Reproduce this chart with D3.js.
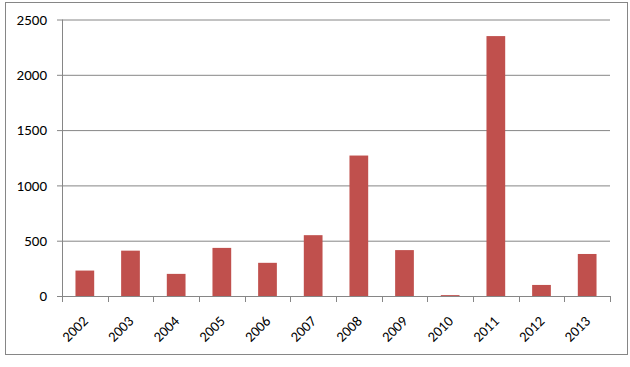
<!doctype html>
<html>
<head>
<meta charset="utf-8"/>
<title>Bars</title>
<script src="https://d3js.org/d3.v7.min.js"></script>
<style>
  body { margin: 0; background: white; }
  text { font-family: Calibri, Carlito, 'Liberation Sans', Arial, sans-serif; fill: black; }
</style>
</head>
<body>
<svg id="svg1"></svg>
<script>
// values
const years = ['2002', '2003', '2004', '2005', '2006', '2007', '2008', '2009', '2010', '2011', '2012', '2013']
const counts = [230, 410, 200, 435, 300, 550, 1270, 415, 8, 2350, 100, 380]
const yTicks = [0, 500, 1000, 1500, 2000, 2500]

const width = 630
const height = 367
const grey = '#868686'

const svg = d3.select('#svg1')
    .attr('width', width)
    .attr('height', height)

// outer chart frame
svg.append('rect')
    .attr('x', 5.5).attr('y', 2.5)
    .attr('width', 622).attr('height', 352)
    .style('fill', 'white')
    .style('stroke', grey)

const plot = { left: 62, right: 610, top: 19.5, bottom: 296 }

const x = d3.scaleBand()
    .domain(years)
    .range([plot.left, plot.right])
    .paddingInner(0.59)
    .paddingOuter(0.295)

const xTicks = d3.scaleBand().domain(years).range([plot.left, plot.right])

const y = d3.scaleLinear()
    .domain([0, 2500])
    .range([plot.bottom, plot.top])

// gridlines + y axis
const yAxis = svg.append('g')
    .attr('transform', `translate(${plot.left},0)`)
    .call(d3.axisLeft(y).tickValues(yTicks).tickFormat(d3.format('d')).tickSizeOuter(0))
yAxis.select('.domain').remove()
yAxis.selectAll('line').style('stroke', grey).attr('x2', plot.right - plot.left).attr('x1', -5)
yAxis.selectAll('text').style('font-size', '15px').attr('x', -15)

svg.append('line')
    .attr('x1', plot.left + 0.5).attr('x2', plot.left + 0.5)
    .attr('y1', plot.top).attr('y2', plot.bottom)
    .style('stroke', grey)

// bars
svg.selectAll('rect.bar')
    .data(counts)
    .join('rect')
    .attr('class', 'bar')
    .attr('x', (d, i) => x(years[i]))
    .attr('width', x.bandwidth())
    .attr('y', d => y(d))
    .attr('height', d => y(0) - y(d))
    .style('fill', '#C0504D')

// x axis
svg.append('line')
    .attr('x1', plot.left).attr('x2', plot.right + 0.5)
    .attr('y1', plot.bottom + 0.5).attr('y2', plot.bottom + 0.5)
    .style('stroke', grey)

const edges = years.map(d => xTicks(d)).concat([plot.right])
svg.selectAll('line.xtick')
    .data(edges)
    .join('line')
    .attr('class', 'xtick')
    .attr('x1', d => Math.round(d) + 0.5).attr('x2', d => Math.round(d) + 0.5)
    .attr('y1', plot.bottom).attr('y2', plot.bottom + 6)
    .style('stroke', grey)

svg.selectAll('text.xlab')
    .data(years)
    .join('text')
    .attr('class', 'xlab')
    .attr('text-anchor', 'end')
    .attr('transform', d => `translate(${xTicks(d) + xTicks.bandwidth() / 2 + 4},322) rotate(-45)`)
    .style('font-size', '14.5px')
    .text(d => d)
</script>
</body>
</html>
